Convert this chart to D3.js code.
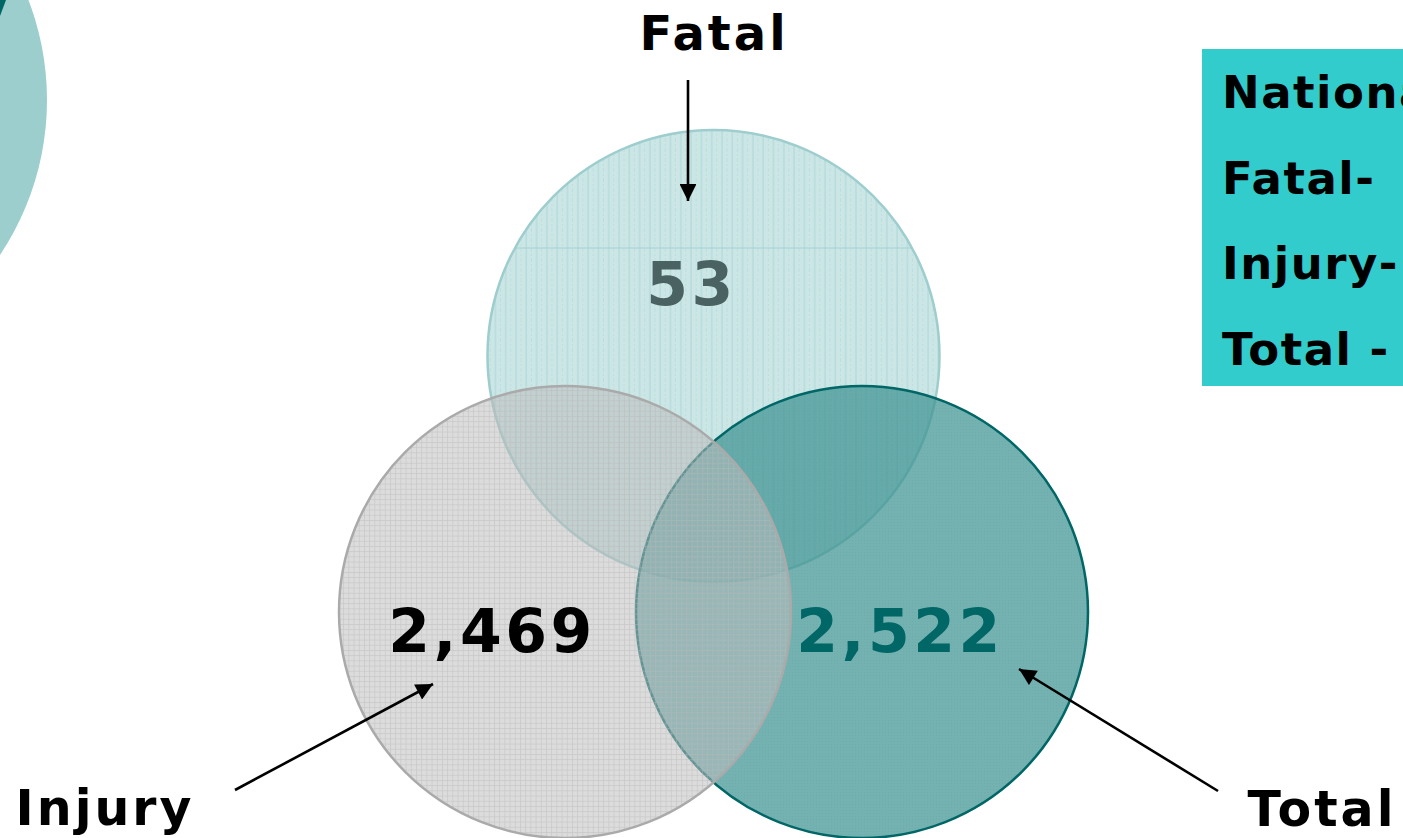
<!DOCTYPE html>
<html lang="en">
<head>
	<meta charset="utf-8">
	<title>Fatal / Injury / Total</title>
	<script src="https://d3js.org/d3.v7.min.js" charset="utf-8"></script>
	<style>
		body { margin: 0; background: #fff; overflow: hidden; }
		text { font-family: "DejaVu Sans", Verdana, sans-serif; font-weight: bold; }
	</style>
</head>
<body>
	<script>
		// values
		var categories = ["Injury", "Fatal", "Total"];
		var counts = [2469, 53, 2522];
		var legendLines = ["National", "Fatal-", "Injury-", "Total -"];

		var w = 1403, h = 838;
		var r = 226;

		// circle centres come from point scales
		var xScale = d3.scalePoint().domain(categories).range([565, 862]);
		var yScale = d3.scalePoint().domain(["top", "bottom"]).range([356, 612]);
		function rowOf(c) { return c === "Fatal" ? "top" : "bottom"; }

		var fmt = d3.format(",");

		var svg = d3.select("body").append("svg")
			.attr("width", w)
			.attr("height", h);

		var defs = svg.append("defs");

		// vertical line hatch for Fatal
		var pF = defs.append("pattern").attr("id", "pFatal")
			.attr("patternUnits", "userSpaceOnUse").attr("width", 10.3).attr("height", 10);
		pF.append("line").attr("x1", 1).attr("y1", 0).attr("x2", 1).attr("y2", 10)
			.attr("stroke", "#a3d2d2").attr("stroke-width", 1);
		pF.append("line").attr("x1", 6).attr("y1", 0).attr("x2", 6).attr("y2", 10)
			.attr("stroke", "#b8dcdc").attr("stroke-width", 1).attr("stroke-dasharray", "2,2");

		// grid for Injury
		var pI = defs.append("pattern").attr("id", "pInjury")
			.attr("patternUnits", "userSpaceOnUse").attr("width", 5.2).attr("height", 5.2);
		pI.append("path").attr("d", "M0,0.5H5.2M0.5,0V5.2")
			.attr("fill", "none").attr("stroke", "#b8b8b8").attr("stroke-width", 0.7);

		// fine dither for Total
		var pT = defs.append("pattern").attr("id", "pTotal")
			.attr("patternUnits", "userSpaceOnUse").attr("width", 3).attr("height", 3);
		pT.append("rect").attr("width", 1).attr("height", 1).attr("fill", "#5f9f9f").attr("opacity", 0.35);

		var styles = {
			Fatal:  { fill: "#cce6e6", alpha: 1,    pat: "url(#pFatal)",  patOp: 0.8, stroke: "#9dcdcd" },
			Total:  { fill: "#3f9393", alpha: 0.72, pat: "url(#pTotal)",  patOp: 0.8, stroke: "#006666" },
			Injury: { fill: "#bcbcbc", alpha: 0.52, pat: "url(#pInjury)", patOp: 0.6, stroke: "#aaaaaa" }
		};

		// left, partly hidden circle from a previous slide
		svg.append("circle")
			.attr("cx", -232).attr("cy", 100).attr("r", 279)
			.attr("fill", "#9ccece");
		svg.append("path").attr("d", "M0,0H6L0,16Z").attr("fill", "#006666");

		// clip for the chord artefact in the Fatal circle
		defs.append("clipPath").attr("id", "clipFatal")
			.append("circle")
			.attr("cx", xScale("Fatal")).attr("cy", yScale("top")).attr("r", r);

		var order = ["Fatal", "Total", "Injury"];
		order.forEach(function(c) {
			var s = styles[c];
			var g = svg.append("g");
			g.append("circle")
				.attr("cx", xScale(c)).attr("cy", yScale(rowOf(c))).attr("r", r)
				.attr("fill", s.fill).attr("fill-opacity", s.alpha);
			g.append("circle")
				.attr("cx", xScale(c)).attr("cy", yScale(rowOf(c))).attr("r", r)
				.attr("fill", s.pat).attr("opacity", s.patOp);
			if (c === "Fatal") {
				g.append("line")
					.attr("clip-path", "url(#clipFatal)")
					.attr("x1", xScale(c) - r).attr("x2", xScale(c) + r)
					.attr("y1", yScale("top") - 108).attr("y2", yScale("top") - 108)
					.attr("stroke", "#a3d2d2").attr("stroke-width", 1.2);
			}
			g.append("circle")
				.attr("cx", xScale(c)).attr("cy", yScale(rowOf(c))).attr("r", r)
				.attr("fill", "none").attr("stroke", s.stroke).attr("stroke-width", 2.5);
		});

		// counts inside circles
		var countPos = {
			Fatal:  { dx: -22, dy: -51, color: "#4a6262" },
			Injury: { dx: -73, dy: 40,  color: "#000000" },
			Total:  { dx: 38,  dy: 40,  color: "#006666" }
		};
		categories.forEach(function(c, i) {
			var p = countPos[c];
			svg.append("text")
				.attr("x", xScale(c) + p.dx)
				.attr("y", yScale(rowOf(c)) + p.dy)
				.attr("text-anchor", "middle")
				.attr("font-size", 60)
				.attr("letter-spacing", 3.5)
				.attr("fill", p.color)
				.text(fmt(counts[i]));
		});

		// arrow marker
		defs.append("marker").attr("id", "arrow")
			.attr("viewBox", "0 0 10 10").attr("refX", 10).attr("refY", 5)
			.attr("markerWidth", 7.5).attr("markerHeight", 6.5)
			.attr("markerUnits", "strokeWidth")
			.attr("orient", "auto")
			.append("path").attr("d", "M0,0L10,5L0,10Z").attr("fill", "#000");

		var arrows = [
			{ x1: 688, y1: 80, x2: 688, y2: 201 },
			{ x1: 235, y1: 790, x2: 433, y2: 684 },
			{ x1: 1218, y1: 791, x2: 1019, y2: 669 }
		];
		svg.selectAll(".arrow").data(arrows).enter().append("line")
			.attr("class", "arrow")
			.attr("x1", function(d) { return d.x1; })
			.attr("y1", function(d) { return d.y1; })
			.attr("x2", function(d) { return d.x2; })
			.attr("y2", function(d) { return d.y2; })
			.attr("stroke", "#000").attr("stroke-width", 2.6)
			.attr("marker-end", "url(#arrow)");

		// category labels
		var labels = [
			{ t: "Fatal",  x: 714,  y: 50,  size: 48 },
			{ t: "Injury", x: 105,  y: 825, size: 49 },
			{ t: "Total",  x: 1322, y: 826, size: 49 }
		];
		svg.selectAll(".lab").data(labels).enter().append("text")
			.attr("class", "lab")
			.attr("x", function(d) { return d.x; })
			.attr("y", function(d) { return d.y; })
			.attr("text-anchor", "middle")
			.attr("font-size", function(d) { return d.size; })
			.attr("letter-spacing", 3)
			.attr("fill", "#000")
			.text(function(d) { return d.t; });

		// legend box, cut off at the right edge as in the picture
		svg.append("rect")
			.attr("x", 1202).attr("y", 49)
			.attr("width", 260).attr("height", 337)
			.attr("fill", "#33cccc");
		var lineY = d3.scalePoint().domain(legendLines).range([108, 365]);
		svg.selectAll(".leg").data(legendLines).enter().append("text")
			.attr("class", "leg")
			.attr("x", 1222)
			.attr("y", function(d) { return lineY(d); })
			.attr("font-size", 45)
			.attr("letter-spacing", 1.5)
			.attr("fill", "#000")
			.text(function(d) { return d; });
	</script>
</body>
</html>
